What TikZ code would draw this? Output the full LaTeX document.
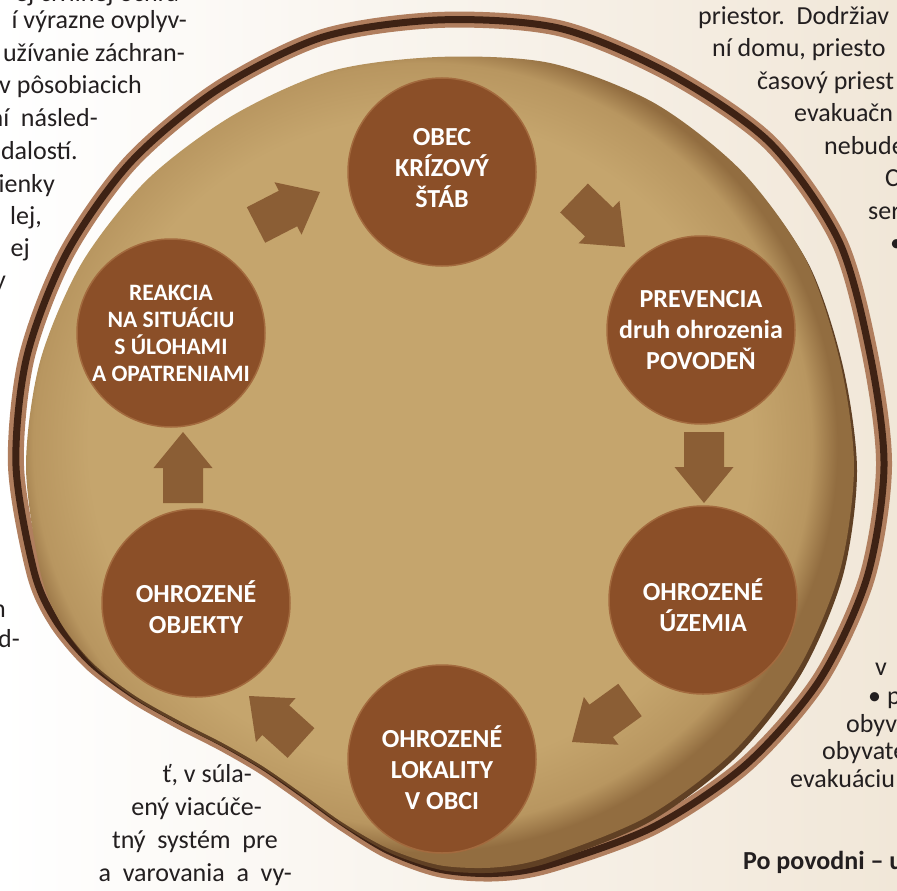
\documentclass[tikz,border=0pt]{standalone}
\usepackage{fontspec}
\setmainfont{Carlito}
\usepackage{tikz}
\usepackage{xcolor}
\usetikzlibrary{calc}

\definecolor{pagecream}{RGB}{241,231,216}
\definecolor{bodytext}{RGB}{35,31,32}
\definecolor{ringlight}{RGB}{176,126,94}
\definecolor{ringdark}{RGB}{62,34,20}
\definecolor{disktan}{RGB}{197,165,109}
\definecolor{diskmid}{RGB}{184,150,96}
\definecolor{diskrim}{RGB}{146,109,64}
\definecolor{diskshadow}{RGB}{96,64,36}
\definecolor{stagebrown}{RGB}{139,79,40}
\definecolor{stageedge}{RGB}{163,106,62}
\definecolor{flowbrown}{RGB}{139,94,53}

\pgfdeclareradialshading{diskshade}{\pgfpoint{-2bp}{2bp}}{color(0bp)=(disktan); color(20bp)=(disktan); color(23.5bp)=(diskmid); color(25bp)=(diskrim); color(50bp)=(diskrim)}

\def\ringline{(440,19.9) (559.7,28.3) (670.7,74.4) (769.8,142.7) (838.6,240.4) (869.8,353.2) (884,466) (866.9,578) (819.3,680.5) (745.4,765.1) (653,827.1) (549.2,864.9) (494.8,873.4) (440,869.3) (388.2,850.6) (342.4,822.4) (301.5,793) (262.8,766.2) (222.7,743) (179.5,720.9) (134.5,695.3) (91.3,662.9) (56.4,621.4) (34.3,572.4) (16,466) (26.6,357.6) (65.9,254.5) (130.3,162.6) (218,89.3) (322.7,37.1)}
\def\diskline{(440,56.9) (550.4,63.1) (654.2,103) (741.5,171) (805.7,259.4) (839.9,361.2) (854,466) (839.9,570.8) (798.5,668.5) (732.7,752.4) (647,816.7) (547.1,857.2) (494,867.5) (440,865.3) (388.5,848.6) (342.4,822.4) (301.5,793) (262.8,766.2) (222.7,743) (179.5,720.9) (134.5,695.3) (92.2,662.4) (59.2,620.3) (40.1,570.8) (26,466) (40.1,361.2) (81.5,263.5) (147.3,179.6) (233,115.3) (331.8,70.9)}

\begin{document}
\begin{tikzpicture}[x=1pt, y=-1pt,
    bodyline/.style={font=\fontsize{26}{30}\selectfont, text=bodytext, inner sep=0pt},
    stage/.style={circle, fill=stagebrown, draw=stageedge, line width=1.5pt, minimum size=188pt, inner sep=0pt},
    stagelabel/.style={align=center, text=white, inner sep=0pt, font=\fontsize{26}{31}\selectfont\bfseries},
    flowstep/.style={fill=flowbrown, to path={
        ($(\tikztostart)!20pt!90:(\tikztotarget)$)
        -- ($(\tikztotarget)!36pt!(\tikztostart)!20pt!90:(\tikztotarget)$)
        -- ($(\tikztotarget)!36pt!(\tikztostart)!29.5pt!90:(\tikztotarget)$)
        -- (\tikztotarget)
        -- ($(\tikztotarget)!36pt!(\tikztostart)!29.5pt!-90:(\tikztotarget)$)
        -- ($(\tikztotarget)!36pt!(\tikztostart)!20pt!-90:(\tikztotarget)$)
        -- ($(\tikztostart)!20pt!-90:(\tikztotarget)$) -- cycle}}]
    \useasboundingbox (0,0) rectangle (897,891);
    \clip (0,0) rectangle (897,891);
    \shade[left color=white, right color=pagecream] (0,0) rectangle (897,891);

    \node[bodyline, anchor=mid east] (l0) at (187,-1) {ej civilnej ochra-};
    \node[bodyline, anchor=mid east] (l1) at (187,26) {í výrazne ovplyv-};
    \node[bodyline, anchor=mid east] (l2) at (185,59) {užívanie záchran-};
    \node[bodyline, anchor=mid east] (l3) at (142,91) {v pôsobiacich};
    \node[bodyline, anchor=mid east] (l4) at (98,124) {ní\ \ násled-};
    \node[bodyline, anchor=mid east] (l5) at (78,157) {dalostí.};
    \node[bodyline, anchor=mid east] (l6) at (55,190) {ienky};
    \node[bodyline, anchor=mid east] (l7) at (42,222) {lej,};
    \node[bodyline, anchor=mid east] (l8) at (30,254) {ej};
    \node[bodyline, anchor=mid east] (l9) at (6,286) {y};
    \node[bodyline, anchor=mid east] (l10) at (6,615) {n};
    \node[bodyline, anchor=mid east] (l11) at (20,645) {d-};
    \node[bodyline, anchor=mid east] (l12) at (252,780) {ť, v súla-};
    \node[bodyline, anchor=mid east] (l13) at (262,813) {ený viacúče-};
    \node[bodyline, anchor=mid east] (l14) at (278,846) {tný\ \ systém\ \ pre};
    \node[bodyline, anchor=mid east] (l15) at (292,879) {a\ \ varovania\ \ a\ \ vy-};

    \node[bodyline, anchor=mid west] (r0) at (698,22) {priestor.\ \ Dodržiav};
    \node[bodyline, anchor=mid west] (r1) at (712,54) {ní domu, priesto};
    \node[bodyline, anchor=mid west] (r2) at (757,87) {časový priest};
    \node[bodyline, anchor=mid west] (r3) at (794,119) {evakuačn};
    \node[bodyline, anchor=mid west] (r4) at (824,152) {nebude};
    \node[bodyline, anchor=mid west] (r5) at (885,184) {C};
    \node[bodyline, anchor=mid west] (r6) at (868,217) {ser};
    \node[bodyline, anchor=mid west] (r7) at (890,249) {•};
    \node[bodyline, anchor=mid west] (r8) at (875,673) {v};
    \node[bodyline, anchor=mid west] (r9) at (868,702) {• p};
    \node[bodyline, anchor=mid west] (r10) at (846,730) {obyv};
    \node[bodyline, anchor=mid west] (r11) at (822,757) {obyvate};
    \node[bodyline, anchor=mid west] (r12) at (790,785) {evakuáciu};
    \node[bodyline, anchor=mid west, font=\fontsize{26}{30}\selectfont\bfseries] (r13) at (743,867) {Po povodni – u};

    \draw[ringlight, line width=16pt] plot[smooth cycle] coordinates {\ringline};
    \draw[ringdark, line width=7pt] plot[smooth cycle] coordinates {\ringline};
    \fill[diskshadow, shift={(3,5)}] plot[smooth cycle] coordinates {\diskline};
    \shade[shading=diskshade] plot[smooth cycle] coordinates {\diskline};

    \node[stage] (obec) at (442,172) {};
    \node[stage] (prevencia) at (701,330) {};
    \node[stage] (uzemia) at (703,600) {};
    \node[stage] (lokality) at (442,759) {};
    \node[stage] (objekty) at (196,603) {};
    \node[stage] (reakcia) at (171,333) {};
    \node[stagelabel] (obec-t) at ([yshift=4pt]obec.center) {OBEC\\KRÍZOVÝ\\ŠTÁB};
    \node[stagelabel] (prevencia-t) at (prevencia.center) {PREVENCIA\\druh ohrozenia\\POVODEŇ};
    \node[stagelabel] (uzemia-t) at ([yshift=-5pt]uzemia.center) {OHROZENÉ\\ÚZEMIA};
    \node[stagelabel] (lokality-t) at ([yshift=-9pt]lokality.center) {OHROZENÉ\\LOKALITY\\V OBCI};
    \node[stagelabel] (objekty-t) at ([yshift=-4pt]objekty.center) {OHROZENÉ\\OBJEKTY};
    \node[stagelabel, font=\fontsize{23.5}{27}\selectfont\bfseries] (reakcia-t) at (reakcia.center) {REAKCIA\\NA SITUÁCIU\\S ÚLOHAMI\\A OPATRENIAMI};

    \coordinate (s1) at (574,198);
    \coordinate (e1) at (625,247);
    \coordinate (s2) at (704,432);
    \coordinate (e2) at (704,503);
    \coordinate (s3) at (630,700);
    \coordinate (e3) at (572,742);
    \coordinate (s4) at (301,743);
    \coordinate (e4) at (249,696);
    \coordinate (s5) at (183,503);
    \coordinate (e5) at (183,432);
    \coordinate (s6) at (256,225);
    \coordinate (e6) at (320,192);
    \fill[flowstep] (s1) to (e1);
    \fill[flowstep] (s2) to (e2);
    \fill[flowstep] (s3) to (e3);
    \fill[flowstep] (s4) to (e4);
    \fill[flowstep] (s5) to (e5);
    \fill[flowstep] (s6) to (e6);
\end{tikzpicture}
\end{document}
